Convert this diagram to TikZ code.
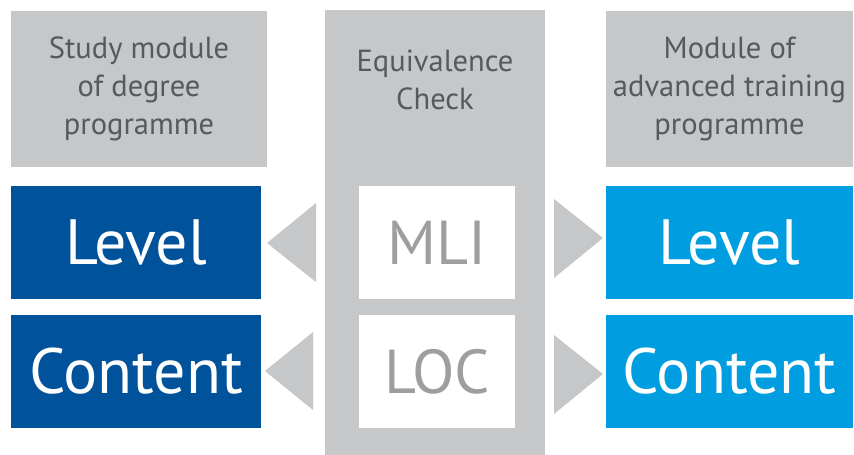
\documentclass[tikz,border=0pt]{standalone}
\usepackage{fontspec}
\setmainfont{PT Sans}
\definecolor{boxgray}{HTML}{C6C7C9}
\definecolor{darkblue}{HTML}{00529B}
\definecolor{lightblue}{HTML}{009EE0}
\definecolor{headtext}{HTML}{58595B}
\definecolor{midtext}{HTML}{9D9EA0}
\tikzset{
  headbox/.style={fill=boxgray, inner sep=0pt, align=center, text=headtext,
    font=\fontsize{30.5}{38}\selectfont},
  bigbox/.style={inner sep=0pt, minimum width=250pt, minimum height=113pt, text=white,
    font=\fontsize{64}{64}\selectfont},
  midbox/.style={fill=white, inner sep=0pt, minimum width=156pt, minimum height=113pt,
    text=midtext, font=\fontsize{62}{62}\selectfont},
  arrowtri/.style={fill=boxgray}
}
\begin{document}
\begin{tikzpicture}[x=1pt,y=-1pt]
\useasboundingbox (0,0) rectangle (854,455);
% header boxes
\node[headbox, minimum width=256pt, minimum height=156pt] (lhead) at (139,89) {Study module\\of degree\\programme};
\node[fill=boxgray, inner sep=0pt, minimum width=220pt, minimum height=445pt] (center) at (435,232.5) {};
\node[headbox, anchor=center] (chead) at (435,80) {Equivalence\\Check};
\node[headbox, minimum width=247pt, minimum height=156pt] (rhead) at (729.5,89) {Module of\\advanced training\\programme};
% left boxes
\node[bigbox, fill=darkblue] (llevel) at (136,242.5) {Level};
\node[bigbox, fill=darkblue] (lcontent) at (136,371.5) {Content};
% middle boxes
\node[midbox] (mli) at (437,242.5) {MLI};
\node[midbox] (loc) at (437,371.5) {LOC};
% right boxes
\node[bigbox, fill=lightblue, minimum width=247pt] (rlevel) at (729.5,242.5) {Level};
\node[bigbox, fill=lightblue, minimum width=247pt] (rcontent) at (729.5,371.5) {Content};
% triangles
\fill[arrowtri] (316,203) -- (267,243) -- (316,282) -- cycle;
\fill[arrowtri] (313,332) -- (265,371) -- (313,410) -- cycle;
\fill[arrowtri] (554,199) -- (603,238) -- (554,278) -- cycle;
\fill[arrowtri] (554,335) -- (603,374) -- (554,414) -- cycle;
\end{tikzpicture}
\end{document}
